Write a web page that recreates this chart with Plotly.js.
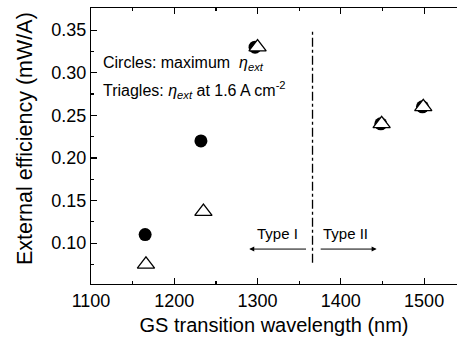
<!DOCTYPE html>
<html>
<head>
<meta charset="utf-8">
<script src="https://cdn.plot.ly/plotly-3.0.1.min.js"></script>
<style>html,body{margin:0;padding:0;background:#fff;}#chart{width:457px;height:345px;}</style>
</head>
<body>
<div id="chart"></div>
<script>
// Data
const wavelengthCircles = [1165, 1232, 1297, 1448, 1498];
const effMaximum = [0.110, 0.220, 0.330, 0.240, 0.260];
const wavelengthTriangles = [1166, 1235, 1300, 1449, 1499];
const effAt16 = [0.075, 0.137, 0.330, 0.240, 0.260];
const xTickValues = [1100, 1200, 1300, 1400, 1500];
const yTickValues = [0.10, 0.15, 0.20, 0.25, 0.30, 0.35];
const boundaryWavelength = 1366;
const boundaryYRange = [0.077, 0.348];
const yTitle = 'External efficiency (mW/A)';
const xTitle = 'GS transition wavelength (nm)';

const font = "Liberation Sans, Arial, sans-serif";

const traces = [
  {
    x: wavelengthCircles, y: effMaximum, type: 'scatter', mode: 'markers',
    marker: {symbol: 'circle', size: 13, color: '#000', line: {width: 0}},
    showlegend: false, hoverinfo: 'skip'
  },
  {
    x: wavelengthTriangles, y: effAt16, type: 'scatter', mode: 'markers',
    marker: {symbol: 'triangle-up', size: 15, color: '#fff', line: {width: 1.3, color: '#000'}},
    showlegend: false, hoverinfo: 'skip'
  }
];

const layout = {
  width: 457, height: 345,
  margin: {l: 91, r: 0, t: 8, b: 61},
  paper_bgcolor: '#fff', plot_bgcolor: '#fff',
  font: {family: font, color: '#000', size: 18},
  xaxis: {
    range: [1100, 1539.5], tickvals: xTickValues, ticktext: xTickValues.map(String),
    ticks: 'inside', ticklen: 6, tickwidth: 1.2, tickcolor: '#000',
    minor: {dtick: 50, tick0: 1100, ticks: 'inside', ticklen: 3, tickwidth: 1.2, tickcolor: '#000'},
    showline: true, linecolor: '#000', linewidth: 1.2, mirror: 'ticks',
    showgrid: false, zeroline: false,
    tickfont: {size: 18, family: font},
    title: {text: xTitle, font: {size: 20, family: font}, standoff: 8}
  },
  yaxis: {
    range: [0.052, 0.376], tickvals: yTickValues, ticktext: yTickValues.map(v => v.toFixed(2)),
    ticks: 'inside', ticklen: 6, tickwidth: 1.2, tickcolor: '#000',
    minor: {dtick: 0.025, tick0: 0.05, ticks: 'inside', ticklen: 3, tickwidth: 1.2, tickcolor: '#000'},
    showline: true, linecolor: '#000', linewidth: 1.2, mirror: false,
    showgrid: false, zeroline: false,
    tickfont: {size: 18, family: font}
  },
  shapes: [
    {type: 'line', xref: 'x', yref: 'y', x0: boundaryWavelength, x1: boundaryWavelength,
     y0: boundaryYRange[0], y1: boundaryYRange[1], line: {color: '#000', width: 1.3, dash: 'dashdot'}}
  ],
  annotations: [
    {xref: 'paper', yref: 'paper', x: 0, y: 0.525, xshift: -66, xanchor: 'center', yanchor: 'middle',
     textangle: -90, showarrow: false, text: yTitle, font: {size: 21.5, family: font}},
    {xref: 'x', yref: 'y', x: 1112, y: 0.311, xanchor: 'left', yanchor: 'middle', showarrow: false,
     text: 'Circles: maximum  <i>η</i><sub><i>ext</i></sub>', font: {size: 16, family: font}},
    {xref: 'x', yref: 'y', x: 1112, y: 0.2796, xanchor: 'left', yanchor: 'middle', showarrow: false,
     text: 'Triagles: <i>η</i><sub><i>ext</i></sub> at 1.6 A cm<sup>-2</sup>', font: {size: 16, family: font}},
    {xref: 'x', yref: 'y', x: 1324, y: 0.1117, showarrow: false, text: 'Type I', font: {size: 15, family: font}},
    {xref: 'x', yref: 'y', x: 1406, y: 0.1117, showarrow: false, text: 'Type II', font: {size: 15, family: font}},
    {xref: 'x', yref: 'y', axref: 'x', ayref: 'y', x: 1290, y: 0.093, ax: 1360, ay: 0.093,
     text: '', showarrow: true, arrowhead: 2, arrowsize: 1, arrowwidth: 1, arrowcolor: '#000'},
    {xref: 'x', yref: 'y', axref: 'x', ayref: 'y', x: 1443, y: 0.093, ax: 1374, ay: 0.093,
     text: '', showarrow: true, arrowhead: 2, arrowsize: 1, arrowwidth: 1, arrowcolor: '#000'}
  ]
};

Plotly.newPlot('chart', traces, layout, {staticPlot: true, displayModeBar: false});
</script>
</body>
</html>
